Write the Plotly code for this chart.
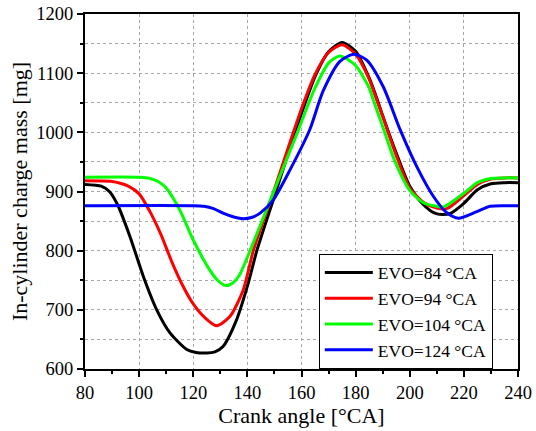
import plotly.graph_objects as go

# Crank angle [°CA] and in-cylinder charge mass [mg] for each EVO timing
x_evo84 = [80, 86, 89, 92, 96.6, 101.6, 106.5, 111.4, 117.6, 121, 125, 128, 131, 136, 140, 143.5,
           150, 157.6, 160, 165, 170, 175, 180, 185, 188, 190, 195, 200, 205, 209, 212, 215, 220,
           225, 230, 235, 240]
y_evo84 = [912, 909, 900, 878, 824, 756, 700, 661, 633, 628, 627, 629, 638, 683, 740, 800,
           892, 1000, 1032, 1094, 1136, 1152, 1137, 1092, 1055, 1028, 965, 909, 878, 864, 861, 863, 880,
           903, 913, 915, 915]

x_evo94 = [80, 90, 93, 96, 100, 104, 108, 112, 116, 120, 124, 128.6, 133.6, 138.5, 142.2,
           150, 157, 160, 165, 170, 175, 180, 185, 187.8, 190, 195, 200, 205, 210, 213.7, 220,
           225, 230, 235, 240]
y_evo94 = [918, 917, 914, 909, 896, 866, 828, 782, 742, 710, 688, 673, 689, 734, 800,
           904, 1000, 1040, 1098, 1135, 1148, 1132, 1090, 1055, 1027, 961, 906, 882, 872, 871, 893,
           912, 921, 923, 923]

x_evo104 = [80, 100, 104, 107, 110, 115, 120, 126, 129, 132, 134.5, 137, 141,
            150, 158.5, 160, 165, 170, 174.2, 180, 185, 186.5, 190, 194.6, 200, 205, 210, 212.5,
            220, 225, 230, 235, 240]
y_evo104 = [924, 924, 922, 917, 906, 869, 818, 768, 750, 741, 745, 758, 800,
            903, 1000, 1018, 1075, 1117, 1129, 1113, 1075, 1055, 1010, 950, 902, 881, 875, 874,
            897, 915, 922, 923, 923]

x_evo124 = [80, 120, 124, 127.5, 131, 135, 138.5, 141.5, 144.7, 149.6, 155.8, 163, 168,
            174.2, 179.4, 184.1, 190.2, 196.4, 202.6, 208.7, 213.7, 218, 224.8, 229.7, 235, 240]
y_evo124 = [876, 876, 875, 871, 863.5, 857, 854, 856, 863.5, 886, 937, 1004, 1070,
            1120, 1132, 1122, 1077, 1005, 942, 892, 864, 855, 866, 875, 876, 876]

series_names = ["EVO=84 °CA", "EVO=94 °CA", "EVO=104 °CA", "EVO=124 °CA"]
series_x = [x_evo84, x_evo94, x_evo104, x_evo124]
series_y = [y_evo84, y_evo94, y_evo104, y_evo124]
series_colors = ["#000000", "#ff0000", "#00ff00", "#0000ff"]

FONT = "Liberation Serif"

fig = go.Figure()
for name, xs, ys, c in zip(series_names, series_x, series_y, series_colors):
    fig.add_trace(go.Scatter(x=xs, y=ys, mode="lines", name=name,
                             line=dict(color=c, width=3, shape="spline", smoothing=0.7)))

grid_color = "#a6a6a6"
fig.update_layout(
    width=536, height=431,
    margin=dict(l=85, r=18, t=14, b=62, autoexpand=False),
    paper_bgcolor="white", plot_bgcolor="white",
    font=dict(family=FONT, color="black", size=18),
    showlegend=True,
    legend=dict(x=0.540, y=0.325, xanchor="left", yanchor="top",
                bgcolor="white", bordercolor="black", borderwidth=1,
                font=dict(family=FONT, size=17.5, color="black"),
                tracegroupgap=0, itemwidth=48),
    xaxis=dict(range=[80, 240], dtick=20, tick0=80, automargin=False,
               showline=True, linecolor="black", linewidth=2, mirror=True,
               ticks="outside", ticklen=6, tickwidth=1.5, tickcolor="black",
               showgrid=True, gridcolor=grid_color, griddash="dot", gridwidth=1,
               zeroline=False,
               minor=dict(dtick=10, ticks="outside", ticklen=3, tickwidth=1.5,
                          tickcolor="black", showgrid=False),
               title=dict(text="Crank angle [°CA]", font=dict(family=FONT, size=22), standoff=5),
               tickfont=dict(family=FONT, size=18.5)),
    yaxis=dict(range=[600, 1200], dtick=100, tick0=600, automargin=False,
               showline=True, linecolor="black", linewidth=2, mirror=True,
               ticks="outside", ticklen=6, tickwidth=1.5, tickcolor="black",
               showgrid=True, gridcolor=grid_color, griddash="dot", gridwidth=1,
               zeroline=False,
               minor=dict(dtick=50, ticks="outside", ticklen=3, tickwidth=1.5,
                          tickcolor="black", showgrid=True, gridcolor=grid_color,
                          griddash="dot", gridwidth=1),
               title=dict(text="In-cylinder charge mass [mg]", font=dict(family=FONT, size=22), standoff=3),
               tickfont=dict(family=FONT, size=18.5)),
)

fig.write_html("out.html")
